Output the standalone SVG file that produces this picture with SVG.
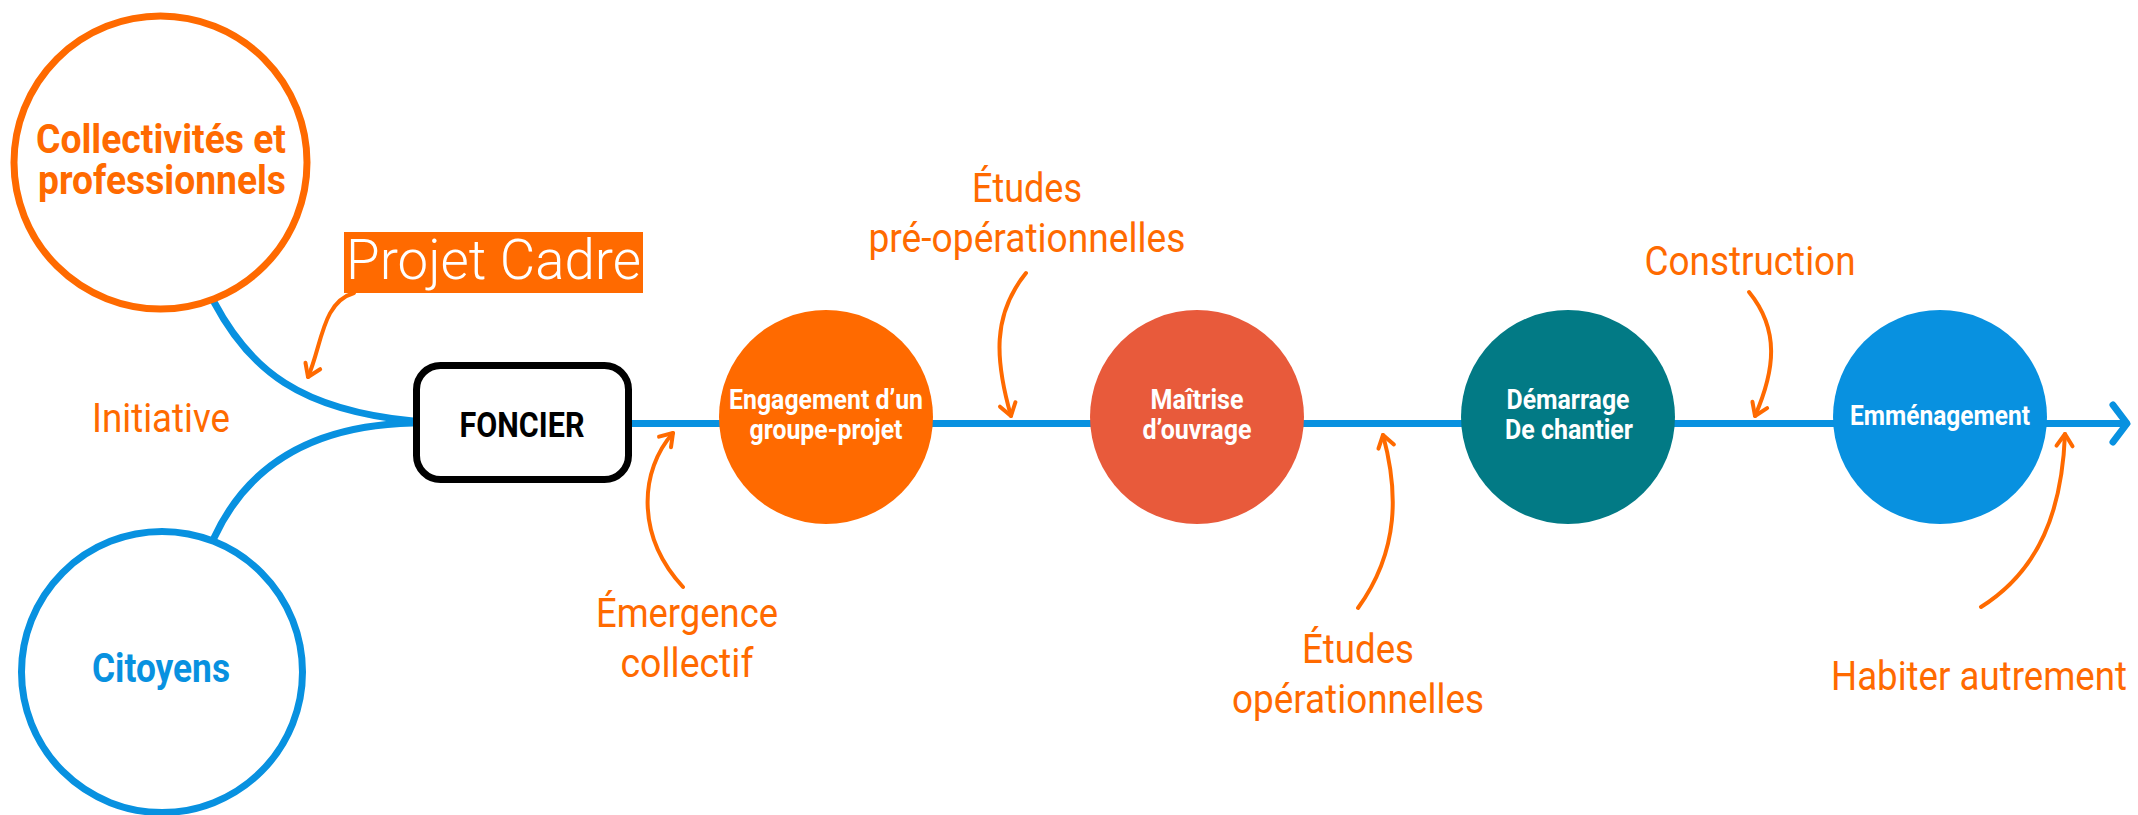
<svg xmlns="http://www.w3.org/2000/svg" width="2138" height="815" viewBox="0 0 2138 815">
<defs>
<style>
.lbl{font-family:Roboto,"Liberation Sans",sans-serif;font-size:41px;fill:#ff6a00;text-anchor:middle;}
.nd{font-family:Roboto,"Liberation Sans",sans-serif;font-size:27px;font-weight:700;fill:#ffffff;text-anchor:middle;}
.big{font-family:Roboto,"Liberation Sans",sans-serif;font-size:40px;font-weight:700;text-anchor:middle;}
.blue{fill:none;stroke:#0891e0;stroke-width:7;stroke-linecap:round;}
.oarr{fill:none;stroke:#ff6a00;stroke-width:4;stroke-linecap:round;marker-end:url(#oh);}
</style>
<marker id="oh" markerUnits="userSpaceOnUse" markerWidth="30" markerHeight="30" viewBox="-15 -15 30 30" refX="0" refY="0" orient="auto">
<path d="M-12,-8 L0,0 L-12,8" fill="none" stroke="#ff6a00" stroke-width="4" stroke-linecap="round" stroke-linejoin="round"/>
</marker>
</defs>
<rect width="2138" height="815" fill="#ffffff"/>
<g id="connectors">
<path class="blue" d="M214,302 C250,370 300,410 413,421"/>
<path class="blue" d="M214,538 C250,460 320,425 413,423"/>
<line class="blue" x1="632" y1="423.5" x2="2126" y2="423.5"/>
<path class="blue" d="M2113,405 L2127,423.5 L2113,442" stroke-linejoin="round"/>
<path class="oarr" d="M354,293 C322,302 322,345 308,377"/>
<path class="oarr" d="M683,587 C635,535 640,470 673,433"/>
<path class="oarr" d="M1026,273 C992,315 995,360 1011,416"/>
<path class="oarr" d="M1358,608 C1400,550 1398,490 1383,435"/>
<path class="oarr" d="M1749,292 C1780,330 1775,370 1755,416"/>
<path class="oarr" d="M1981,607 C2040,570 2062,510 2065,434"/>
</g>
<g id="collectivites">
<circle cx="160.5" cy="162.5" r="146.5" fill="#ffffff" stroke="#ff6a00" stroke-width="7"/>
<text class="big" x="161" y="153" fill="#ff6a00" textLength="250" lengthAdjust="spacingAndGlyphs">Collectivités et</text>
<text class="big" x="162" y="194" fill="#ff6a00" textLength="248" lengthAdjust="spacingAndGlyphs">professionnels</text>
</g>
<g id="citoyens">
<circle cx="162" cy="672" r="140.5" fill="#ffffff" stroke="#0891e0" stroke-width="7"/>
<text class="big" x="161" y="682" fill="#0891e0" textLength="138" lengthAdjust="spacingAndGlyphs">Citoyens</text>
</g>
<g id="initiative">
<text class="lbl" x="161" y="432" textLength="138" lengthAdjust="spacingAndGlyphs">Initiative</text>
</g>
<g id="projet-cadre">
<rect x="344" y="232" width="299" height="61" fill="#ff6a00"/>
<text x="346" y="279" font-family="Roboto,'Liberation Sans',sans-serif" font-size="56" font-weight="300" fill="#ffffff" textLength="295" lengthAdjust="spacingAndGlyphs">Projet Cadre</text>
</g>
<g id="foncier">
<rect x="416.5" y="365.5" width="212" height="114" rx="24" fill="#ffffff" stroke="#000000" stroke-width="7"/>
<text x="522" y="437" font-family="Roboto,'Liberation Sans',sans-serif" font-size="35" font-weight="700" fill="#000000" text-anchor="middle" textLength="125" lengthAdjust="spacingAndGlyphs">FONCIER</text>
</g>
<g id="engagement">
<circle cx="826" cy="417" r="107" fill="#ff6a00"/>
<text class="nd" x="826" y="409" textLength="194" lengthAdjust="spacingAndGlyphs">Engagement d’un</text>
<text class="nd" x="826" y="439" textLength="153" lengthAdjust="spacingAndGlyphs">groupe-projet</text>
</g>
<g id="maitrise">
<circle cx="1197" cy="417" r="107" fill="#e85a3b"/>
<text class="nd" x="1197" y="409" textLength="93" lengthAdjust="spacingAndGlyphs">Maîtrise</text>
<text class="nd" x="1197" y="439" textLength="109" lengthAdjust="spacingAndGlyphs">d’ouvrage</text>
</g>
<g id="demarrage">
<circle cx="1568" cy="417" r="107" fill="#027a85"/>
<text class="nd" x="1568" y="409" textLength="123" lengthAdjust="spacingAndGlyphs">Démarrage</text>
<text class="nd" x="1569" y="439" textLength="128" lengthAdjust="spacingAndGlyphs">De chantier</text>
</g>
<g id="emmenagement">
<circle cx="1940" cy="417" r="107" fill="#0891e0"/>
<text class="nd" x="1940" y="425" textLength="180" lengthAdjust="spacingAndGlyphs">Emménagement</text>
</g>
<g id="labels">
<text class="lbl" x="687" y="627" textLength="182" lengthAdjust="spacingAndGlyphs">Émergence</text>
<text class="lbl" x="687" y="677" textLength="133" lengthAdjust="spacingAndGlyphs">collectif</text>
<text class="lbl" x="1027" y="202" textLength="110" lengthAdjust="spacingAndGlyphs">Études</text>
<text class="lbl" x="1027" y="252" textLength="317" lengthAdjust="spacingAndGlyphs">pré-opérationnelles</text>
<text class="lbl" x="1358" y="663" textLength="112" lengthAdjust="spacingAndGlyphs">Études</text>
<text class="lbl" x="1358" y="713" textLength="252" lengthAdjust="spacingAndGlyphs">opérationnelles</text>
<text class="lbl" x="1750" y="275" textLength="211" lengthAdjust="spacingAndGlyphs">Construction</text>
<text class="lbl" x="0" y="0" transform="translate(1979,690) scale(0.894,1)">Habiter autrement</text>
</g>
</svg>
